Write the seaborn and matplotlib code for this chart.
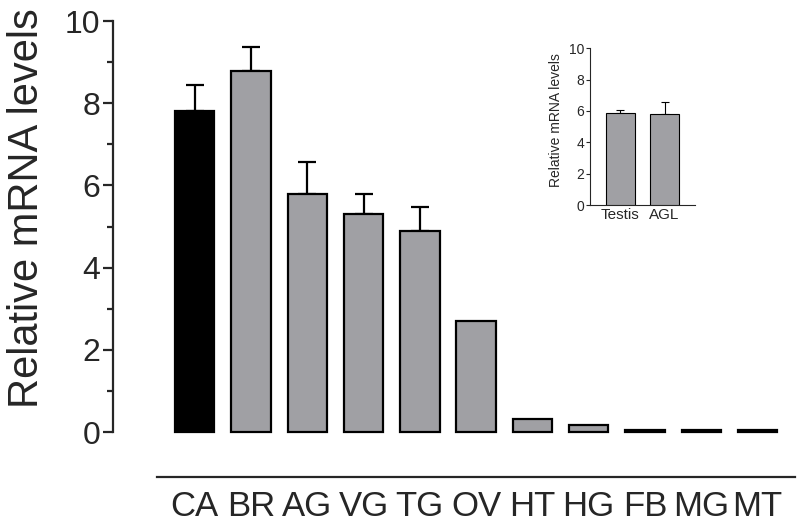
import numpy as np
import pandas as pd
import matplotlib
matplotlib.use("Agg")
import matplotlib.pyplot as plt
import seaborn as sns

# Data
tissues = ["CA", "BR", "AG", "VG", "TG", "OV", "HT", "HG", "FB", "MG", "MT"]
levels = [7.8, 8.78, 5.79, 5.3, 4.89, 2.7, 0.32, 0.17, 0.06, 0.06, 0.06]
errors = [0.64, 0.59, 0.78, 0.49, 0.58, 0.0, 0.0, 0.0, 0.0, 0.0, 0.0]

inset_tissues = ["Testis", "AGL"]
inset_levels = [5.88, 5.78]
inset_errors = [0.17, 0.8]

sns.set_style("ticks")
plt.rcParams["font.family"] = ["Liberation Sans", "DejaVu Sans"]

gray = "#a0a0a4"
df = pd.DataFrame({"tissue": tissues, "level": levels})
df_in = pd.DataFrame({"tissue": inset_tissues, "level": inset_levels})

fig = plt.figure(figsize=(8, 5.28), dpi=100)
ax = fig.add_axes([0.14125, 0.0962, 0.855, 0.8795])

colors = ["black"] + [gray] * (len(tissues) - 1)
sns.barplot(data=df, x="tissue", y="level", hue="tissue", palette=colors,
            legend=False, width=0.7, edgecolor="black", linewidth=1.6,
            saturation=1, ax=ax, zorder=3)
xs = np.arange(len(tissues))
has_err = np.array(errors) > 0
ax.errorbar(xs[has_err], np.array(levels)[has_err],
            yerr=[np.zeros(has_err.sum()), np.array(errors)[has_err]],
            fmt="none", ecolor="black", elinewidth=1.6, capsize=6.5,
            capthick=1.6, zorder=2)

ax.set_xlim(-1.45, 10.7)
ax.set_ylim(-1.1, 10.2)
ax.spines["left"].set_bounds(0, 10)
ax.spines["bottom"].set_bounds(-0.67, 10.67)
ax.spines["right"].set_visible(False)
ax.spines["top"].set_visible(False)
for s in ["left", "bottom"]:
    ax.spines[s].set_linewidth(1.6)
ax.set_yticks([0, 2, 4, 6, 8, 10])
ax.set_yticks([1, 3, 5, 7, 9], minor=True)
ax.tick_params(axis="y", which="major", labelsize=23, length=7, width=1.6, pad=2)
ax.tick_params(axis="y", which="minor", length=4, width=1.6)
ax.tick_params(axis="x", length=0, labelsize=25, pad=9)
ax.set_xlabel("")
ax.set_ylabel("Relative mRNA levels", fontsize=30)
ax.yaxis.set_label_coords(-0.097, 0.58)

# inset
axin = fig.add_axes([0.7375, 0.6117, 0.13125, 0.297])
sns.barplot(data=df_in, x="tissue", y="level", color=gray, width=0.66,
            edgecolor="black", linewidth=0.8, saturation=1, ax=axin, zorder=3)
axin.errorbar(np.arange(2), inset_levels,
              yerr=[np.zeros(2), inset_errors], fmt="none", ecolor="black",
              elinewidth=0.8, capsize=3, capthick=0.8, zorder=2)
axin.set_xlim(-0.69, 1.69)
axin.set_ylim(0, 10)
axin.set_yticks([0, 2, 4, 6, 8, 10])
axin.spines["right"].set_visible(False)
axin.spines["top"].set_visible(False)
axin.tick_params(axis="y", labelsize=10, length=3, width=0.8, pad=1)
axin.tick_params(axis="x", labelsize=11, length=0, pad=2)
axin.set_xlabel("")
axin.set_ylabel("Relative mRNA levels", fontsize=10)
axin.yaxis.set_label_coords(-0.26, 0.54)
axin.patch.set_alpha(0)

fig.savefig("out.png", dpi=100)
